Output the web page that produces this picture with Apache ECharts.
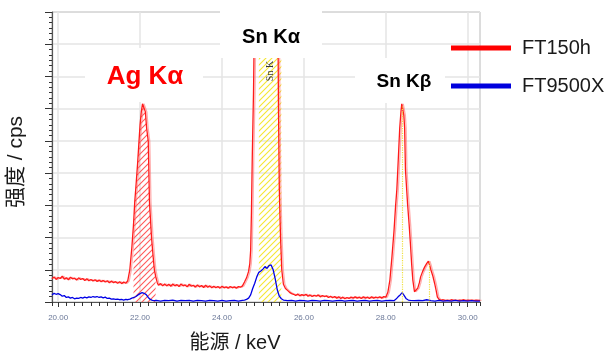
<!DOCTYPE html>
<html><head><meta charset="utf-8">
<script src="https://cdn.jsdelivr.net/npm/echarts@6/dist/echarts.min.js"></script>
<style>html,body{margin:0;padding:0;background:#fff}#c{width:606px;height:353px}</style>
</head><body><div id="c"></div>
<script>
// Energy axis (keV)
const xMin = 19.85, xMax = 30.3;
const xTickLabels = ['20.00','22.00','24.00','26.00','28.00','30.00'];
const seriesNames = ['FT150h','FT9500X'];
// FT150h spectrum [keV, cps (relative)]
const ft150h = [
[19.85,0.72],[19.9,0.78],[19.95,0.7],[20.0,0.76],[20.05,0.73],[20.1,0.8],[20.15,0.71],[20.2,0.75],[20.25,0.69],[20.3,0.77],
[20.35,0.72],[20.4,0.74],[20.45,0.68],[20.5,0.75],[20.55,0.7],[20.6,0.73],[20.65,0.67],[20.7,0.72],[20.75,0.66],[20.8,0.7],
[20.85,0.65],[20.9,0.69],[20.95,0.64],[21.0,0.68],[21.05,0.63],[21.1,0.67],[21.15,0.62],[21.2,0.66],[21.25,0.6],[21.3,0.65],
[21.35,0.6],[21.4,0.63],[21.45,0.58],[21.5,0.63],[21.55,0.57],[21.6,0.62],[21.65,0.58],[21.7,0.66],
[21.75,1.0],[21.8,1.7],[21.84,2.4],[21.87,3.1],[21.9,3.6],[21.94,4.3],[21.97,4.9],[22.0,5.5],[22.03,5.9],[22.06,6.15],
[22.08,6.2],[22.1,6.1],[22.13,5.9],[22.16,5.4],[22.2,5.0],[22.23,3.1],[22.28,2.0],[22.32,1.4],[22.35,1.0],[22.38,0.8],[22.42,0.6],
[22.45,0.52],[22.5,0.57],[22.55,0.5],[22.6,0.56],[22.65,0.5],[22.7,0.55],[22.75,0.49],[22.8,0.56],[22.85,0.5],[22.9,0.54],
[22.95,0.48],[23.0,0.56],[23.05,0.5],[23.1,0.53],[23.15,0.47],[23.2,0.55],[23.25,0.49],[23.3,0.52],[23.35,0.46],[23.4,0.53],
[23.45,0.47],[23.5,0.51],[23.55,0.45],[23.6,0.52],[23.65,0.46],[23.7,0.5],[23.75,0.44],[23.8,0.49],[23.85,0.44],[23.9,0.48],
[23.95,0.43],[24.0,0.49],[24.05,0.44],[24.1,0.47],[24.15,0.43],[24.2,0.48],[24.25,0.44],[24.3,0.47],[24.35,0.43],[24.4,0.48],
[24.45,0.46],[24.5,0.5],[24.55,0.62],[24.6,0.75],[24.65,0.95],[24.68,1.2],[24.7,1.6],[24.72,2.8],[24.74,4.5],[24.77,6.5],
[24.8,9.5],[24.85,12],[24.9,13.5],[25.0,14.5],[25.1,15],[25.2,15],[25.3,13],[25.34,11],[25.36,10],[25.38,6],
[25.4,3.5],[25.43,2.0],[25.46,1.0],[25.5,0.55],[25.55,0.42],[25.6,0.36],[25.65,0.3],[25.7,0.26],
[25.75,0.24],[25.8,0.2],[25.85,0.25],[25.9,0.19],[25.95,0.23],[26.0,0.2],[26.05,0.24],[26.1,0.18],[26.15,0.22],[26.2,0.17],
[26.25,0.21],[26.3,0.18],[26.35,0.22],[26.4,0.16],[26.45,0.2],[26.5,0.17],[26.55,0.19],[26.6,0.14],[26.65,0.18],[26.7,0.13],
[26.75,0.17],[26.8,0.12],[26.85,0.16],[26.9,0.11],[26.95,0.15],[27.0,0.1],[27.05,0.14],[27.1,0.11],[27.15,0.15],[27.2,0.12],
[27.25,0.16],[27.3,0.12],[27.35,0.15],[27.4,0.11],[27.45,0.16],[27.5,0.12],[27.55,0.15],[27.6,0.11],[27.65,0.16],[27.7,0.12],
[27.75,0.15],[27.8,0.13],[27.85,0.16],[27.9,0.12],[27.95,0.17],[28.0,0.15],[28.05,0.3],[28.1,0.68],[28.15,1.4],[28.2,2.2],
[28.24,3.0],[28.27,3.5],[28.3,4.3],[28.34,5.4],[28.37,5.9],[28.39,6.15],[28.42,6.1],[28.44,5.8],[28.46,5.4],[28.48,4.1],
[28.53,3.07],[28.57,2.4],[28.6,1.83],[28.63,1.2],[28.66,0.68],[28.7,0.32],[28.74,0.3],[28.78,0.43],[28.82,0.6],[28.85,0.78],
[28.9,0.95],[28.95,1.09],[29.0,1.2],[29.04,1.27],[29.07,1.15],[29.1,1.0],[29.15,0.8],[29.19,0.59],[29.23,0.35],[29.26,0.15],
[29.3,0.08],[29.35,0.05],[29.4,0.07],[29.45,0.04],[29.5,0.06],[29.55,0.04],[29.6,0.07],[29.65,0.05],[29.7,0.06],[29.75,0.04],
[29.8,0.06],[29.85,0.05],[29.9,0.07],[29.95,0.04],[30.0,0.06],[30.05,0.05],[30.1,0.06],[30.15,0.04],[30.2,0.06],[30.25,0.05],[30.3,0.05]
];
// FT9500X spectrum [keV, cps (relative)]
const ft9500x = [
[19.85,0.22],[19.9,0.27],[19.95,0.24],[20.0,0.26],[20.05,0.23],[20.1,0.18],[20.15,0.2],[20.2,0.14],[20.25,0.16],[20.3,0.12],
[20.35,0.14],[20.4,0.1],[20.45,0.12],[20.5,0.11],[20.55,0.14],[20.6,0.12],[20.65,0.15],[20.7,0.13],[20.75,0.16],[20.8,0.14],
[20.85,0.17],[20.9,0.15],[20.95,0.17],[21.0,0.14],[21.05,0.16],[21.1,0.13],[21.15,0.15],[21.2,0.11],[21.25,0.12],[21.3,0.09],
[21.35,0.1],[21.4,0.08],[21.45,0.09],[21.5,0.07],[21.55,0.08],[21.6,0.06],[21.65,0.08],[21.7,0.07],[21.75,0.09],[21.8,0.12],
[21.85,0.14],[21.9,0.17],[21.95,0.22],[22.0,0.26],[22.05,0.29],[22.1,0.27],[22.15,0.23],[22.2,0.14],[22.25,0.08],[22.3,0.05],
[22.35,0.04],[22.4,0.05],[22.5,0.03],[22.6,0.05],[22.7,0.04],[22.8,0.06],[22.9,0.03],[23.0,0.05],[23.1,0.04],[23.2,0.05],
[23.3,0.03],[23.4,0.05],[23.5,0.04],[23.6,0.03],[23.7,0.05],[23.8,0.04],[23.9,0.03],[24.0,0.05],[24.1,0.03],[24.2,0.04],
[24.3,0.05],[24.4,0.03],[24.5,0.05],[24.55,0.06],[24.6,0.08],[24.65,0.12],[24.7,0.22],[24.75,0.42],[24.8,0.58],[24.85,0.78],
[24.9,0.92],[24.95,0.96],[25.0,1.02],[25.05,1.1],[25.1,1.04],[25.15,1.13],[25.2,1.15],[25.25,1.0],[25.3,0.72],[25.35,0.38],
[25.4,0.18],[25.45,0.1],[25.5,0.06],[25.6,0.04],[25.7,0.05],[25.8,0.03],[25.9,0.05],[26.0,0.04],[26.1,0.03],[26.2,0.05],
[26.3,0.04],[26.4,0.03],[26.5,0.05],[26.6,0.04],[26.7,0.03],[26.8,0.04],[26.9,0.05],[27.0,0.03],[27.1,0.04],[27.2,0.05],
[27.3,0.03],[27.4,0.04],[27.5,0.05],[27.6,0.03],[27.7,0.04],[27.8,0.05],[27.9,0.03],[28.0,0.04],[28.1,0.05],[28.2,0.04],
[28.25,0.09],[28.3,0.16],[28.35,0.22],[28.4,0.29],[28.45,0.2],[28.5,0.1],[28.55,0.06],[28.6,0.05],[28.7,0.04],[28.8,0.05],
[28.9,0.04],[29.0,0.07],[29.05,0.06],[29.1,0.04],[29.2,0.03],[29.3,0.05],[29.4,0.03],[29.5,0.04],[29.6,0.03],[29.7,0.05],
[29.8,0.03],[29.9,0.04],[30.0,0.03],[30.1,0.04],[30.2,0.03],[30.3,0.03]
];
// Region of interest ranges (keV)
const agKaRange = [21.84, 22.38];
const snKaRange = [24.9, 25.45];
// KLM marker lines [keV, height]
const snKbMarkers = [[28.4, 6.1], [29.05, 1.25]];
const peakLabels = ['Ag K\u03b1', 'Sn K\u03b1', 'Sn K\u03b2', 'Sn K'];

function hatch(color, size) {
  const c = document.createElement('canvas');
  c.width = size; c.height = size;
  const ctx = c.getContext('2d');
  ctx.clearRect(0, 0, size, size);
  ctx.strokeStyle = color; ctx.fillStyle = color; ctx.lineWidth = 1.1;
  ctx.beginPath();
  ctx.moveTo(0, size); ctx.lineTo(size, 0);
  ctx.moveTo(-1, 1); ctx.lineTo(1, -1);
  ctx.moveTo(size - 1, size + 1); ctx.lineTo(size + 1, size - 1);
  ctx.stroke();
  return c.toDataURL('image/png');
}
const redHatch = { image: hatch('rgb(255,90,90)', 6), repeat: 'repeat' };
const yellowHatch = { image: hatch('rgb(245,230,50)', 6), repeat: 'repeat' };

const chart = echarts.init(document.getElementById('c'), null, { renderer: 'canvas' });
const FONT = 'Liberation Sans, Arial, Noto Sans CJK SC, sans-serif';
chart.setOption({
  animation: false,
  backgroundColor: '#fff',
  grid: { left: 52, right: 126, top: 12, bottom: 51, show: true, borderColor: '#8a8a8a', borderWidth: 1,
    backgroundColor: 'transparent', outerBoundsMode: 'none', containLabel: false },
  legend: {
    data: seriesNames, orient: 'vertical', left: 446, top: 33, itemWidth: 60, itemHeight: 5, itemGap: 18,
    icon: 'rect', textStyle: { fontSize: 20, color: '#1a1a1a', fontFamily: FONT, padding: [0, 0, 0, 6] }, z: 100
  },
  xAxis: [{
    type: 'value', min: xMin, max: xMax, splitNumber: 5,
    axisLine: { show: true, lineStyle: { color: '#555', width: 1.2 } },
    axisTick: { show: true, inside: false, length: 5, lineStyle: { color: '#333' } },
    axisLabel: { show: true, showMinLabel: false, showMaxLabel: false, margin: 12, fontSize: 8, color: '#6b7898', fontFamily: FONT,
      formatter: v => xTickLabels.find(t => Math.abs(parseFloat(t) - v) < 1e-6) || '' },
    splitLine: { show: true, lineStyle: { color: '#e4e4e4', width: 1.5 } },
    name: '能源 / keV', nameLocation: 'middle', nameGap: 31,
    nameTextStyle: { fontSize: 20, color: '#1a1a1a', fontFamily: FONT, padding: [0, 62, 0, 0] }
  }, {
    type: 'value', min: xMin, max: xMax, splitNumber: 52, position: 'bottom', offset: 0,
    axisLine: { show: false }, axisLabel: { show: false }, splitLine: { show: false },
    axisTick: { show: true, length: 4, lineStyle: { color: '#333' } }
  }],
  yAxis: {
    type: 'value', min: 0, max: 9, interval: 1,
    axisLine: { show: true, lineStyle: { color: '#555', width: 1.2 } },
    axisTick: { show: true, length: 7, lineStyle: { color: '#333' } },
    minorTick: { show: true, splitNumber: 6, length: 3, lineStyle: { color: '#333' } },
    axisLabel: { show: false },
    splitLine: { show: true, lineStyle: { color: '#e4e4e4', width: 1.5 } },
    name: '强度 / cps', nameLocation: 'middle', nameGap: 25, nameRotate: 90,
    nameTextStyle: { fontSize: 21, color: '#1a1a1a', fontFamily: FONT, padding: [0, 10, 0, 0] }
  },
  series: [
    {
      name: 'AgHatch', type: 'line', data: ft150h.filter(p => p[0] >= agKaRange[0] && p[0] <= agKaRange[1]),
      symbol: 'none', lineStyle: { width: 0, opacity: 0 }, areaStyle: { color: redHatch, opacity: 1 },
      silent: true, z: 1, color: '#ff0000'
    },
    {
      name: seriesNames[0], type: 'line', data: ft150h, symbol: 'none', color: '#ff0000',
      lineStyle: { width: 1.3, color: '#ff1a1a', shadowColor: 'rgba(255,120,120,0.6)', shadowBlur: 0, shadowOffsetX: 1.5 },
      z: 3,
      markArea: { silent: true, itemStyle: { color: yellowHatch, opacity: 1 }, data: [[{ xAxis: snKaRange[0] }, { xAxis: snKaRange[1] }]] },
      markLine: {
        silent: true, symbol: 'none', label: { show: false },
        lineStyle: { color: '#f0e040', type: 'dotted', width: 1.2 },
        data: snKbMarkers.map(m => [{ coord: [m[0], 0] }, { coord: [m[0], m[1]] }])
      }
    },
    {
      name: seriesNames[1], type: 'line', data: ft9500x, symbol: 'none', color: '#0000dd',
      lineStyle: { width: 1.3, color: '#0000e6' }, z: 4
    }
  ],
  graphic: {
    elements: [
      { type: 'rect', z: 50, shape: { x: 220, y: 0, width: 102, height: 58 }, style: { fill: '#fff' } },
      { type: 'rect', z: 50, shape: { x: 85, y: 48, width: 118, height: 54 }, style: { fill: '#fff' } },
      { type: 'rect', z: 50, shape: { x: 355, y: 58, width: 90, height: 45 }, style: { fill: '#fff' } },
      { type: 'text', z: 51, x: 145, y: 77, style: { text: peakLabels[0], fill: '#ff0000', font: 'bold 26px ' + FONT, textAlign: 'center', textVerticalAlign: 'middle' } },
      { type: 'text', z: 51, x: 271, y: 37, style: { text: peakLabels[1], fill: '#000', font: 'bold 20px ' + FONT, textAlign: 'center', textVerticalAlign: 'middle' } },
      { type: 'text', z: 51, x: 404, y: 82, style: { text: peakLabels[2], fill: '#000', font: 'bold 19px ' + FONT, textAlign: 'center', textVerticalAlign: 'middle' } },
      { type: 'text', z: 51, x: 270, y: 71, rotation: Math.PI / 2, style: { text: peakLabels[3], fill: '#333', font: '10px Liberation Serif, serif', textAlign: 'center', textVerticalAlign: 'middle' } }
    ]
  }
});
</script></body></html>
